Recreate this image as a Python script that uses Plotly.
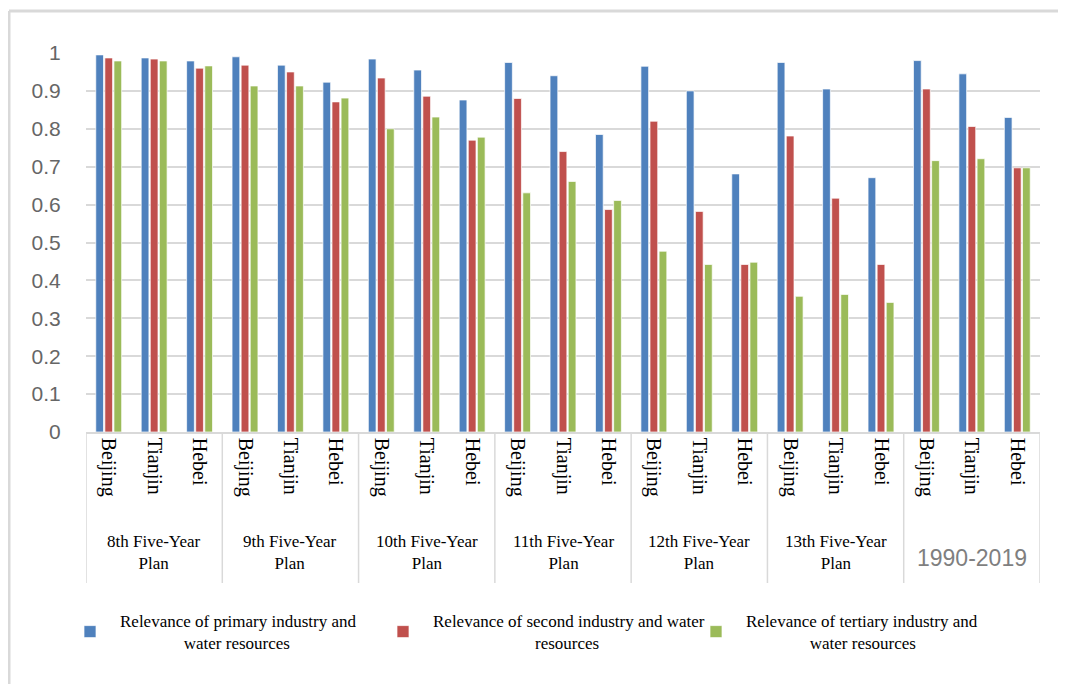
import plotly.graph_objects as go

plans = ["8th Five-Year<br>Plan", "9th Five-Year<br>Plan", "10th Five-Year<br>Plan",
         "11th Five-Year<br>Plan", "12th Five-Year<br>Plan", "13th Five-Year<br>Plan",
         "1990-2019"]
cities = ["Beijing", "Tianjin", "Hebei"]

primary = [0.995, 0.987, 0.979,
           0.990, 0.968, 0.923,
           0.984, 0.955, 0.876,
           0.975, 0.940, 0.785,
           0.965, 0.900, 0.681,
           0.975, 0.905, 0.671,
           0.980, 0.945, 0.830]
secondary = [0.987, 0.984, 0.960,
             0.968, 0.950, 0.871,
             0.934, 0.886, 0.770,
             0.880, 0.740, 0.587,
             0.820, 0.582, 0.442,
             0.781, 0.617, 0.442,
             0.905, 0.806, 0.697]
tertiary = [0.979, 0.979, 0.966,
            0.913, 0.913, 0.881,
            0.800, 0.831, 0.778,
            0.631, 0.661, 0.611,
            0.477, 0.442, 0.448,
            0.358, 0.363, 0.342,
            0.716, 0.721, 0.697]

NB = "\u00a0"
series_names = [
    "Relevance of primary industry and<br>" + NB * 15 + "water resources",
    "Relevance of second industry and water<br>" + NB * 24 + "resources",
    "Relevance of tertiary industry and<br>" + NB * 15 + "water resources",
]
colors = ["#4F81BD", "#C0504D", "#9BBB59"]

n_cat = len(plans) * len(cities)
xpos = list(range(n_cat))
xlabels = [c for _ in plans for c in cities]

fig = go.Figure()
for name, vals, col in zip(series_names, [primary, secondary, tertiary], colors):
    fig.add_trace(go.Bar(
        x=xpos, y=vals, name=name,
        marker=dict(color=col, line=dict(color="rgba(255,255,255,0.7)", width=1)),
    ))

serif = "Liberation Serif, Times New Roman, serif"
sans = "Liberation Sans, Arial, sans-serif"

OFF = 8  # default page body margin
W, H = 1066 - OFF, 684 - OFF
L, R, T, B = 78, 26, 45, 252
pw, ph = W - L - R, H - T - B


def py(y_screen):
    return (H - B - (y_screen - OFF)) / ph


def px(x_screen):
    return (x_screen - OFF - L) / pw


shapes = []
for g in range(len(plans) + 1):
    xv = g * len(cities) - 0.5
    shapes.append(dict(type="line", xref="x", yref="paper", x0=xv, x1=xv,
                       y0=0, y1=py(583), line=dict(color="#D9D9D9", width=1.5)))
shapes.append(dict(type="line", xref="paper", yref="paper", x0=px(9), x1=px(1070),
                   y0=py(11), y1=py(11), line=dict(color="#D9D9D9", width=3)))
shapes.append(dict(type="line", xref="paper", yref="paper", x0=px(9), x1=px(9),
                   y0=py(11), y1=py(700), line=dict(color="#D9D9D9", width=3)))

annotations = []
for g, plan in enumerate(plans):
    xc = g * len(cities) + (len(cities) - 1) / 2
    if plan.startswith("1990"):
        annotations.append(dict(x=xc, y=py(558), xref="x", yref="paper", text=plan,
                                showarrow=False, yanchor="middle", xanchor="center",
                                font=dict(family="Liberation Sans Narrow, " + sans,
                                          size=23, color="#7F7F7F")))
    else:
        annotations.append(dict(x=xc, y=py(552), xref="x", yref="paper", text=plan,
                                showarrow=False, align="center",
                                yanchor="middle", xanchor="center",
                                font=dict(family=serif, size=17, color="#000000")))

fig.update_layout(
    width=W, height=H,
    margin=dict(l=L, r=R, t=T, b=B),
    paper_bgcolor="white", plot_bgcolor="white",
    barmode="group", bargap=0.4, bargroupgap=0.15,
    shapes=shapes, annotations=annotations,
    legend=dict(orientation="h", x=px(60), y=py(632), xanchor="left", yanchor="middle",
                font=dict(family=serif, size=17, color="#000000"),
                itemwidth=50,
                entrywidth=248, entrywidthmode="pixels", traceorder="normal",
                itemclick=False, itemdoubleclick=False),
    xaxis=dict(range=[-0.5, n_cat - 0.5], tickmode="array", tickvals=xpos, ticktext=xlabels,
               tickangle=90, tickfont=dict(family=serif, size=20, color="#000000"),
               showgrid=False, showline=True, linecolor="#D9D9D9", linewidth=1.5,
               ticks="", zeroline=False, fixedrange=True),
    yaxis=dict(range=[0, 1],
               tickvals=[i / 10 for i in range(11)],
               ticktext=["0", "0.1", "0.2", "0.3", "0.4", "0.5", "0.6", "0.7", "0.8", "0.9", "1"],
               tickfont=dict(family=sans, size=21, color="#666666"),
               showgrid=True, gridcolor="#D9D9D9", gridwidth=1.5,
               zeroline=False, showline=False,
               ticks="outside", ticklen=20, tickcolor="rgba(0,0,0,0)",
               fixedrange=True),
)

fig.write_html("out.html")
